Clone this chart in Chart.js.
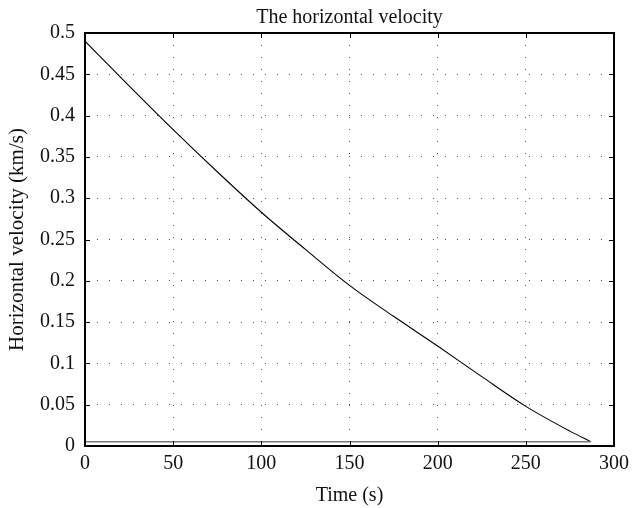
<!DOCTYPE html>
<html><head><meta charset="utf-8">
<script src="https://cdn.jsdelivr.net/npm/chart.js@4/dist/chart.umd.min.js"></script>
<style>html,body{margin:0;padding:0;background:#fff}#w{width:633px;height:508px}</style>
</head><body><div id="w"><canvas id="c"></canvas></div>
<script>
const timeS = [0, 25, 50, 75, 100, 125, 150, 175, 200, 225, 250, 275, 287];
const velocity = [0.49, 0.436, 0.383, 0.332, 0.283, 0.238, 0.1945, 0.157, 0.121, 0.084, 0.048, 0.018, 0.005];
const baseTime = [0, 287];
const baseVel = [0.005, 0.005];
const xTicks = [0, 50, 100, 150, 200, 250, 300];
const yTicks = [0, 0.05, 0.1, 0.15, 0.2, 0.25, 0.3, 0.35, 0.4, 0.45, 0.5];

const FONT = "'Liberation Serif', 'DejaVu Serif', serif";

const frame = {
  id: 'frame',
  afterDraw(chart) {
    const {ctx, chartArea: a, scales} = chart;
    ctx.save();
    ctx.strokeStyle = '#000';
    ctx.lineWidth = 1;
    const L = 5;
    ctx.beginPath();
    scales.x.ticks.forEach(t => {
      const px = Math.round(scales.x.getPixelForValue(t.value)) + 0.5;
      ctx.moveTo(px, a.bottom); ctx.lineTo(px, a.bottom - L);
      ctx.moveTo(px, a.top); ctx.lineTo(px, a.top + L);
    });
    scales.y.ticks.forEach(t => {
      const py = Math.round(scales.y.getPixelForValue(t.value)) + 0.5;
      ctx.moveTo(a.left, py); ctx.lineTo(a.left + L, py);
      ctx.moveTo(a.right, py); ctx.lineTo(a.right - L, py);
    });
    ctx.stroke();
    ctx.lineWidth = 2;
    ctx.strokeRect(a.left, a.top, a.right - a.left, a.bottom - a.top);
    ctx.restore();
  }
};

new Chart(document.getElementById('c'), {
  type: 'line',
  data: {
    datasets: [
      { data: baseTime.map((t, i) => ({x: t, y: baseVel[i]})), borderColor: '#777', borderWidth: 1.5, pointRadius: 0, tension: 0 },
      { data: timeS.map((t, i) => ({x: t, y: velocity[i]})), borderColor: '#000', borderWidth: 1.1, pointRadius: 0, cubicInterpolationMode: 'monotone' }
    ]
  },
  options: {
    responsive: true, maintainAspectRatio: false, animation: false,
    layout: { padding: { left: 0, right: 19, top: 0, bottom: 0 } },
    plugins: {
      legend: { display: false }, tooltip: { enabled: false },
      title: { display: true, fullSize: false, text: 'The horizontal velocity', color: '#111',
        font: { family: FONT, size: 20, weight: 'normal' }, padding: { top: 6, bottom: 3 } }
    },
    scales: {
      x: {
        type: 'linear', min: 0, max: 300,
        afterBuildTicks: s => { s.ticks = xTicks.map(v => ({value: v})); },
        afterFit: s => { s.height = 62; s.paddingRight = 0; },
        ticks: { color: '#111', font: { family: FONT, size: 20 }, padding: 6 },
        grid: { color: '#555', lineWidth: 1, drawTicks: false },
        border: { display: false, dash: [1, 11] },
        title: { display: true, text: 'Time (s)', color: '#111', font: { family: FONT, size: 20 }, padding: { top: 0, bottom: 0 } }
      },
      y: {
        type: 'linear', min: 0, max: 0.5,
        afterBuildTicks: s => { s.ticks = yTicks.map(v => ({value: v})); },
        afterFit: s => { s.width = 85; },
        ticks: { color: '#111', font: { family: FONT, size: 20 }, padding: 10, callback: v => String(+v.toFixed(2)) },
        grid: { color: '#555', lineWidth: 1, drawTicks: false },
        border: { display: false, dash: [1, 11] },
        title: { display: true, text: 'Horizontal velocity (km/s)', color: '#111', font: { family: FONT, size: 21 }, padding: { top: 5, bottom: 0 } }
      }
    }
  },
  plugins: [frame]
});
</script></body></html>
